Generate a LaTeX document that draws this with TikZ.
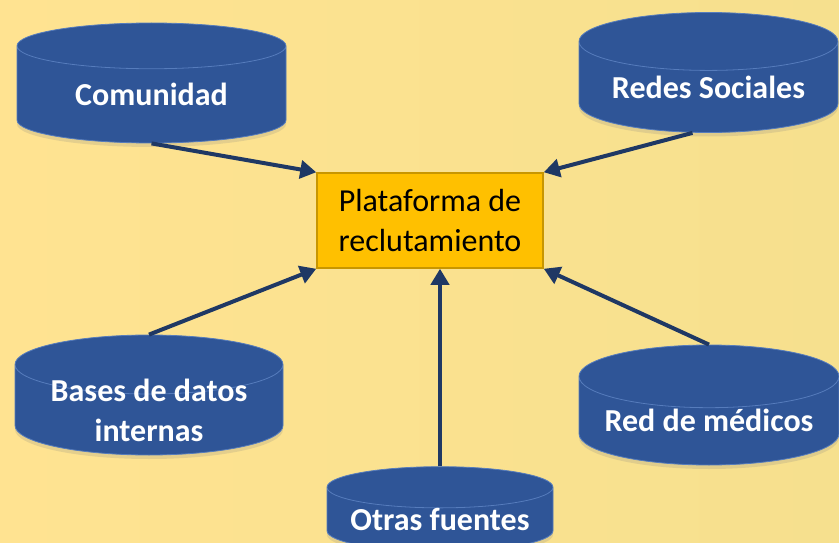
\documentclass[tikz,border=0pt]{standalone}
\usepackage{fontspec}
\setmainfont{Carlito}
\usetikzlibrary{shapes.geometric,arrows.meta,shadows}
\definecolor{drumblue}{RGB}{47,85,151}
\definecolor{drumrim}{RGB}{86,124,188}
\definecolor{arrowblue}{RGB}{31,56,100}
\definecolor{gold}{RGB}{255,192,0}
\definecolor{goldrim}{RGB}{200,150,0}
\definecolor{bgleft}{RGB}{255,227,145}
\definecolor{bgright}{RGB}{246,224,142}
\tikzset{
  drum/.style={
    cylinder, shape border rotate=90, aspect=0.3, anchor=shape center,
    fill=drumblue, draw=drumrim, line width=0.8pt,
    text=white, font=\bfseries\fontsize{32}{40}\selectfont, align=center,
    minimum width=269pt, minimum height=120pt, inner sep=0pt,
    drop shadow={opacity=0.2,shadow xshift=0pt,shadow yshift=-4pt}
  },
  hub/.style={
    fill=gold, draw=goldrim, line width=1.5pt,
    minimum width=226pt, minimum height=95pt, inner sep=0pt,
    font=\fontsize{32}{40}\selectfont, align=center
  },
  feed/.style={arrowblue, line width=4pt, -{Triangle[length=16pt,width=18pt]}}
}

\begin{document}
\begin{tikzpicture}[x=1pt,y=-1pt]
\useasboundingbox (0,0) rectangle (839,543);
\clip (0,0) rectangle (839,543);
\fill[left color=bgleft,right color=bgright] (0,0) rectangle (839,543);

\node[hub] (plat) at (430,220.5) {Plataforma de\\reclutamiento};

\node[drum] (com) at (151.5,83) {Comunidad};
\node[drum,minimum width=259pt] (redes) at (708.5,72.5) {Redes Sociales};
\node[drum,minimum width=268pt,inner ysep=-20pt] (bases) at (149,395) {Bases de datos\\internas};
\node[drum,minimum width=260pt] (medicos) at (709,405) {Red de médicos};
\node[drum,minimum width=226pt,minimum height=84pt,aspect=0.23] (otras) at (440,509) {Otras fuentes};

\draw[feed] (com.south) -- (plat.north west);
\draw[feed] ([xshift=-16pt]redes.south) -- (plat.north east);
\draw[feed] (bases.north) -- (plat.south west);
\draw[feed] (medicos.north) -- (plat.south east);
\draw[feed] (otras.north) -- (otras.north |- plat.south);
\end{tikzpicture}
\end{document}
